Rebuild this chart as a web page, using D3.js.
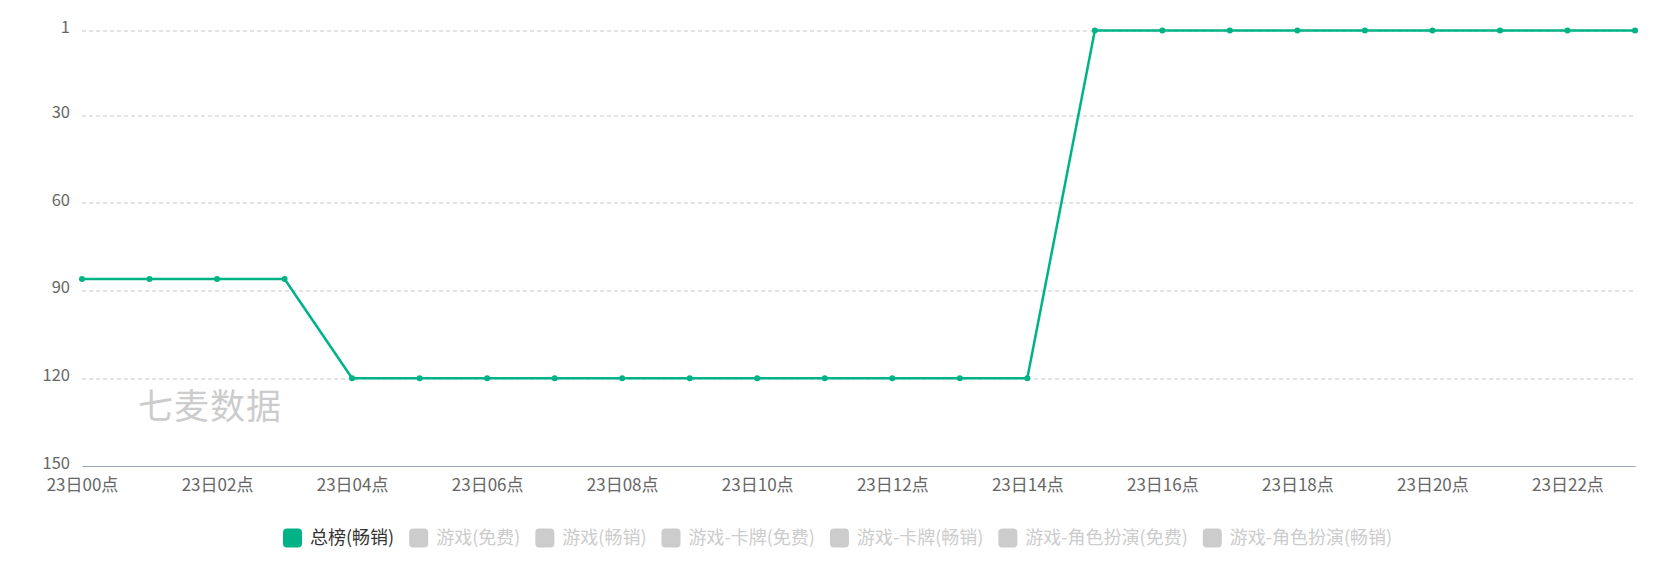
<!DOCTYPE html>
<html>
<head>
<meta charset="utf-8">
<script src="https://cdn.jsdelivr.net/npm/d3@7"></script>
<style>
  body { margin: 0; background: #fff; }
  svg { display: block; font-family: "Noto Sans CJK SC", "Noto Sans", sans-serif; }
</style>
</head>
<body>
<svg id="chart" width="1680" height="585"></svg>
<script>
// hours of the 23rd
var hours = d3.range(0, 24).map(h => "23日" + (h < 10 ? "0" + h : h) + "点")
var rankValues = [86, 86, 86, 86, 120, 120, 120, 120, 120, 120, 120, 120, 120, 120, 120,
                  1, 1, 1, 1, 1, 1, 1, 1, 1]
var yTicks = [1, 30, 60, 90, 120, 150]
var legendNames = ["总榜(畅销)", "游戏(免费)", "游戏(畅销)", "游戏-卡牌(免费)", "游戏-卡牌(畅销)",
                   "游戏-角色扮演(免费)", "游戏-角色扮演(畅销)"]
var legendOn = [true, false, false, false, false, false, false]

var margin = {top: 30.5, right: 45, bottom: 119, left: 82},
    width = 1680 - margin.left - margin.right,
    height = 585 - margin.top - margin.bottom

var green = "#00b386"

var svg = d3.select("#chart")
var chart = svg.append("g")
    .attr("transform", "translate(" + margin.left + "," + margin.top + ")")

var xScale = d3.scalePoint()
    .domain(hours)
    .range([0, width])

var yScale = d3.scaleLinear()
    .domain([1, 150])
    .range([0, height])

// grid lines
chart.append("g")
    .selectAll("line")
    .data(yTicks.slice(0, -1))
    .enter().append("line")
    .attr("x1", 0)
    .attr("x2", width)
    .attr("y1", d => Math.round(yScale(d)) + 0.5)
    .attr("y2", d => Math.round(yScale(d)) + 0.5)
    .attr("stroke", "#c8c8c8")
    .attr("stroke-dasharray", "4,3")

// y axis labels
var yAxis = d3.axisLeft(yScale)
    .tickValues(yTicks)
    .tickSize(0)
    .tickPadding(12)
chart.append("g")
    .attr("class", "y axis")
    .call(yAxis)
    .call(g => g.select(".domain").remove())
    .selectAll("text")
    .attr("dy", "0.14em")
    .attr("font-size", 16.5)
    .attr("fill", "#666")
    .attr("font-family", "Noto Sans CJK SC")

// x axis
var xAxis = d3.axisBottom(xScale)
    .tickValues(hours.filter((h, i) => i % 2 == 0))
    .tickSize(0)
    .tickPadding(13)
var xg = chart.append("g")
    .attr("class", "x axis")
    .attr("transform", "translate(0," + height + ")")
    .call(xAxis)
xg.select(".domain").attr("stroke", "#9ca5b3").attr("stroke-width", 1.2)
xg.selectAll("text")
    .attr("font-size", 17)
    .attr("fill", "#666")
    .attr("font-family", "Noto Sans CJK SC")

// watermark
chart.append("text")
    .attr("x", 138 - margin.left)
    .attr("y", 419 - margin.top)
    .attr("font-size", 35)
    .attr("fill", "#cccccc")
    .attr("letter-spacing", 1)
    .text("七麦数据")

// line
var line = d3.line()
    .x((d, i) => xScale(hours[i]))
    .y(d => yScale(d))

chart.append("path")
    .datum(rankValues)
    .attr("fill", "none")
    .attr("stroke", green)
    .attr("stroke-width", 2.5)
    .attr("stroke-linejoin", "round")
    .attr("d", line)

chart.selectAll(".dot")
    .data(rankValues)
    .enter().append("circle")
    .attr("class", "dot")
    .attr("cx", (d, i) => xScale(hours[i]))
    .attr("cy", d => yScale(d))
    .attr("r", 3)
    .attr("fill", green)

// legend
var legend = svg.append("g").attr("transform", "translate(283,538)")
var lx = 0
legendNames.forEach((name, i) => {
    var item = legend.append("g").attr("transform", "translate(" + lx + ",0)")
    item.append("rect")
        .attr("x", 0)
        .attr("y", -9.5)
        .attr("width", 19)
        .attr("height", 19)
        .attr("rx", 4)
        .attr("fill", legendOn[i] ? green : "#cccccc")
    var t = item.append("text")
        .attr("x", 27)
        .attr("dy", "0.35em")
        .attr("font-size", 18)
        .attr("fill", legendOn[i] ? "#333" : "#cccccc")
        .text(name)
    lx += 27 + t.node().getComputedTextLength() + 15
})
</script>
</body>
</html>
